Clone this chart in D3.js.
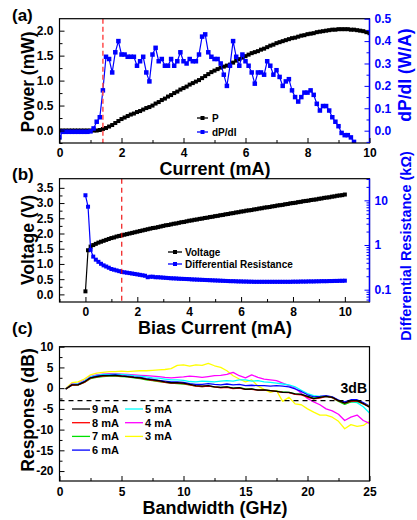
<!DOCTYPE html>
<html>
<head>
<meta charset="utf-8">
<script src="https://cdn.jsdelivr.net/npm/d3@7"></script>
<style>
  body { margin: 0; background: #fff; }
  svg { display: block; }
</style>
</head>
<body>
<svg id="fig" width="417" height="520"></svg>
<script>
// ---- panel (a): L-I and slope efficiency ----
var current = [0,0.1,0.2,0.3,0.4,0.5,0.6,0.7,0.8,0.9,1,1.1,1.2,1.3,1.4,1.5,1.6,1.7,1.8,1.9,
  2,2.1,2.2,2.3,2.4,2.5,2.6,2.7,2.8,2.9,3,3.1,3.2,3.3,3.4,3.5,3.6,3.7,3.8,3.9,
  4,4.1,4.2,4.3,4.4,4.5,4.6,4.7,4.8,4.9,5,5.1,5.2,5.3,5.4,5.5,5.6,5.7,5.8,5.9,
  6,6.1,6.2,6.3,6.4,6.5,6.6,6.7,6.8,6.9,7,7.1,7.2,7.3,7.4,7.5,7.6,7.7,7.8,7.9,
  8,8.1,8.2,8.3,8.4,8.5,8.6,8.7,8.8,8.9,9,9.1,9.2,9.3,9.4,9.5,9.6,9.7,9.8,9.9,10];

var power = [0,0,0,0,0,0,0,0,0,0,0,0,0,0.01,0.03,0.05,0.08,0.11,0.15,0.19,
  0.23,0.26,0.29,0.32,0.34,0.37,0.39,0.42,0.45,0.47,0.50,0.54,0.57,0.61,0.64,0.68,0.71,0.75,0.78,0.82,
  0.85,0.88,0.92,0.95,0.98,1.01,1.05,1.09,1.13,1.17,1.20,1.23,1.26,1.28,1.30,1.32,1.36,1.40,1.43,1.46,
  1.49,1.52,1.55,1.57,1.59,1.62,1.64,1.67,1.70,1.72,1.75,1.77,1.79,1.81,1.83,1.85,1.86,1.88,1.90,1.91,
  1.93,1.94,1.95,1.97,1.98,1.99,2.00,2.01,2.02,2.02,2.03,2.03,2.03,2.03,2.02,2.02,2.01,2.00,1.99,1.97,1.95];

var slope = [-0.03,-0.005,-0.005,-0.005,-0.005,-0.005,-0.005,-0.005,-0.005,-0.005,-0.003,0.01,0.04,0.06,0.18,0.33,0.32,0.26,0.35,0.40,
  0.34,0.34,0.33,0.33,0.33,0.29,0.31,0.33,0.26,0.22,0.34,0.37,0.31,0.32,0.29,0.29,0.32,0.29,0.31,0.35,
  0.31,0.30,0.32,0.31,0.31,0.34,0.42,0.43,0.35,0.33,0.32,0.32,0.30,0.25,0.20,0.29,0.40,0.33,0.29,0.34,
  0.31,0.29,0.26,0.21,0.26,0.26,0.25,0.31,0.29,0.25,0.27,0.24,0.20,0.22,0.23,0.18,0.15,0.13,0.15,0.17,
  0.17,0.18,0.16,0.12,0.09,0.11,0.11,0.09,0.06,0.04,0.02,-0.01,-0.02,-0.02,-0.03,-0.05];

// ---- panel (b): I-V and differential resistance ----
var voltage = [0.10,1.45,1.57,1.62,1.66,1.70,1.73,1.76,1.79,1.82,1.85,1.87,1.90,1.92,1.94,1.96,1.98,2.00,2.02,2.04,
  2.06,2.08,2.10,2.12,2.14,2.16,2.18,2.19,2.21,2.23,2.25,2.27,2.28,2.30,2.32,2.33,2.35,2.37,2.38,2.40,
  2.42,2.43,2.45,2.46,2.48,2.49,2.51,2.52,2.54,2.55,2.57,2.58,2.60,2.61,2.63,2.64,2.66,2.67,2.69,2.70,
  2.72,2.73,2.75,2.76,2.77,2.79,2.80,2.82,2.83,2.85,2.86,2.87,2.89,2.90,2.92,2.93,2.94,2.96,2.97,2.99,
  3.00,3.01,3.03,3.04,3.06,3.07,3.08,3.10,3.11,3.12,3.14,3.15,3.17,3.18,3.19,3.21,3.22,3.24,3.25,3.26,3.28];

var diffRes = [13,7.2,0.78,0.55,0.47,0.42,0.38,0.35,0.33,0.31,0.29,0.28,0.27,0.26,0.25,0.245,0.24,0.235,0.23,0.225,
  0.22,0.215,0.21,0.205,0.19,0.195,0.195,0.19,0.19,0.188,0.186,0.184,0.182,0.18,0.179,0.178,0.176,0.175,0.174,0.173,
  0.172,0.17,0.169,0.168,0.167,0.166,0.165,0.164,0.163,0.162,0.161,0.16,0.159,0.158,0.157,0.156,0.155,0.155,0.154,0.153,
  0.153,0.152,0.152,0.151,0.151,0.15,0.15,0.15,0.15,0.15,0.15,0.15,0.15,0.15,0.15,0.15,0.15,0.15,0.15,0.15,
  0.151,0.151,0.151,0.152,0.152,0.152,0.153,0.153,0.153,0.154,0.154,0.155,0.155,0.155,0.156,0.156,0.157,0.157,0.158,0.158,0.159];

var thresholdCurrent = 1.4;

// ---- panel (c): small-signal response ----
var freq = [0.5,1,1.5,2,2.5,3,3.5,4,4.5,5,5.5,6,6.5,7,7.5,8,8.5,9,9.5,10,
  10.5,11,11.5,12,12.5,13,13.5,14,14.5,15,15.5,16,16.5,17,17.5,18,18.5,19,19.5,20,
  20.5,21,21.5,22,22.5,23,23.5,24,24.5,25];

var resp9 = [-0.2,0.8,0.8,1.5,2.5,2.8,3.0,3.0,3.1,2.9,2.8,2.6,2.5,2.2,2.0,1.8,1.5,1.3,1.3,1.2,
  0.9,0.6,0.5,0.6,0.3,0.2,0.3,0.0,0.1,-0.3,-0.2,-0.5,-0.4,-0.6,-0.8,-1.0,-1.0,-1.4,-1.5,-2.0,
  -2.5,-2.2,-2.0,-2.2,-3.0,-3.6,-3.0,-3.0,-3.7,-4.6];
var resp8 = [-0.2,0.7,0.8,1.4,2.4,2.7,2.9,3.0,3.0,2.9,2.8,2.6,2.4,2.1,1.9,1.7,1.4,1.2,1.2,1.1,
  0.8,0.5,0.4,0.5,0.3,0.1,0.2,-0.1,0.0,-0.3,-0.3,-0.5,-0.5,-0.6,-0.8,-1.0,-1.1,-1.5,-1.6,-2.2,
  -2.6,-2.4,-2.0,-2.3,-3.1,-3.6,-3.2,-3.1,-3.8,-4.5];
var resp7 = [-0.2,0.7,0.8,1.4,2.3,2.6,2.8,2.9,2.9,2.8,2.7,2.5,2.3,2.0,1.8,1.6,1.4,1.2,1.1,1.0,
  0.8,0.5,0.4,0.5,0.3,0.2,0.3,0.0,0.1,-0.2,-0.2,-0.4,-0.4,-0.6,-0.7,-0.9,-1.0,-1.4,-1.5,-2.0,
  -2.4,-2.2,-2.0,-2.3,-3.2,-3.9,-3.3,-3.2,-3.8,-4.4];
var resp6 = [-0.2,0.8,0.9,1.5,2.5,2.9,3.1,3.1,3.2,3.0,2.9,2.7,2.6,2.3,2.1,1.9,1.7,1.5,1.5,1.4,
  1.1,0.9,0.9,1.1,0.9,0.8,1.0,0.8,0.9,0.6,0.7,0.6,0.6,0.5,0.6,0.5,0.3,-0.2,-0.8,-1.6,
  -2.1,-2.0,-1.8,-2.1,-2.9,-3.3,-2.8,-2.8,-3.5,-4.3];
var resp5 = [-0.2,0.9,1.0,1.7,2.7,3.1,3.3,3.3,3.4,3.3,3.2,3.0,2.9,2.7,2.5,2.4,2.2,2.0,2.0,1.9,
  1.6,1.5,1.7,1.6,1.5,1.7,1.8,1.7,2.0,2.0,1.7,1.8,1.5,1.4,1.2,1.0,0.8,0.3,-0.5,-1.3,
  -1.8,-2.0,-2.0,-2.3,-3.0,-3.5,-3.3,-3.5,-4.5,-6.0];
var resp4 = [-0.2,1.0,1.1,1.8,2.8,3.2,3.4,3.5,3.5,3.4,3.3,3.2,3.1,3.0,2.9,2.8,2.6,2.5,2.6,2.7,
  2.9,2.8,2.6,2.8,3.0,3.1,3.3,3.8,3.0,2.5,3.2,2.6,2.2,2.0,1.8,1.2,0.6,0.0,-1.2,-2.5,
  -3.3,-4.0,-5.0,-5.5,-6.3,-7.8,-7.0,-6.5,-7.8,-8.5];
var resp3 = [-0.1,1.3,1.5,2.2,3.2,3.6,3.8,4.0,4.0,4.1,4.0,4.1,4.2,4.2,4.3,4.4,4.5,4.7,5.5,5.6,
  5.3,5.6,5.5,6.0,5.4,5.0,4.2,3.0,2.2,1.5,2.0,0.5,-0.3,-1.0,-0.6,-3.2,-2.2,-3.8,-4.0,-5.0,
  -5.8,-6.5,-6.5,-7.0,-8.0,-9.8,-8.8,-9.2,-9.0,-8.0];

var biasLabels = ["9 mA", "8 mA", "7 mA", "6 mA", "5 mA", "4 mA", "3 mA"];
var biasColors = ["#000000", "#ff0000", "#00e000", "#0000ff", "#00ffff", "#ff00ff", "#ffff00"];
var responses = [resp9, resp8, resp7, resp6, resp5, resp4, resp3];

// ---------------------------------------------------------------
var FONT = "Arial, 'Liberation Sans', sans-serif";
var BLUE = "#0000ff";
var L = 59.5, R = 369.5;

var svg = d3.select("#fig")
  .attr("font-family", FONT)
  .attr("font-weight", "bold");

function addAxis(gen, scale, pos, major, minor, fmt, color, pad) {
  var g = svg.append("g").attr("transform", pos);
  g.call(gen(scale).tickValues(major).tickSizeInner(-5).tickSizeOuter(0)
    .tickPadding(pad).tickFormat(fmt));
  g.append("g").call(gen(scale).tickValues(minor).tickSizeInner(-3)
    .tickSizeOuter(0).tickFormat(""));
  g.selectAll(".domain").remove();
  g.attr("font-family", FONT).attr("font-size", 12).attr("font-weight", "bold");
  g.selectAll("line").attr("stroke", color).attr("stroke-width", 1);
  g.selectAll("text").attr("fill", color);
  return g;
}

function frame(top, bottom, rightColor) {
  svg.append("rect")
    .attr("x", L).attr("y", top)
    .attr("width", R - L).attr("height", bottom - top)
    .attr("fill", "none").attr("stroke", "#000").attr("stroke-width", 1.2);
  if (rightColor) {
    svg.append("line")
      .attr("x1", R).attr("x2", R).attr("y1", top).attr("y2", bottom)
      .attr("stroke", rightColor).attr("stroke-width", 1.4);
  }
}

function clip(id, top, bottom) {
  svg.append("clipPath").attr("id", id)
    .append("rect").attr("x", L).attr("y", top)
    .attr("width", R - L).attr("height", bottom - top);
  return "url(#" + id + ")";
}

function yTitle(x, y, txt, color, size) {
  svg.append("text")
    .attr("transform", "translate(" + x + "," + y + ") rotate(-90)")
    .attr("text-anchor", "middle")
    .attr("font-size", size)
    .attr("fill", color)
    .text(txt);
}

function xTitle(y, txt) {
  svg.append("text")
    .attr("x", 215).attr("y", y)
    .attr("text-anchor", "middle")
    .attr("font-size", 18)
    .text(txt);
}

function panelLabel(y, txt) {
  svg.append("text").attr("x", 12).attr("y", y)
    .attr("font-size", 17).text(txt);
}

function squares(g, pts, x, y, size, color) {
  g.selectAll(null).data(pts).enter().append("rect")
    .attr("x", function (d) { return x(d[0]) - size / 2; })
    .attr("y", function (d) { return y(d[1]) - size / 2; })
    .attr("width", size).attr("height", size)
    .attr("fill", color);
}

function pairs(xs, ys) {
  return ys.map(function (v, i) { return [xs[i], v]; });
}

// ================= panel (a) =================
var topA = 18.7, botA = 143;
var xA = d3.scaleLinear().domain([0, 10]).range([L, R]);
var yA = d3.scaleLinear().domain([-0.25, 2.24]).range([botA, topA]);
var yA2 = d3.scaleLinear().domain([-0.055, 0.5]).range([botA, topA]);

var clipA = clip("clipA", topA, botA);
var gA = svg.append("g").attr("clip-path", clipA);

var pPts = pairs(current, power);
var sPts = pairs(current, slope);

gA.append("path").datum(pPts)
  .attr("fill", "none").attr("stroke", "#000").attr("stroke-width", 1.5)
  .attr("d", d3.line().x(function (d) { return xA(d[0]); }).y(function (d) { return yA(d[1]); }));
squares(gA, pPts, xA, yA, 4, "#000");

gA.append("path").datum(sPts)
  .attr("fill", "none").attr("stroke", BLUE).attr("stroke-width", 1.2)
  .attr("d", d3.line().x(function (d) { return xA(d[0]); }).y(function (d) { return yA2(d[1]); }));
squares(gA, sPts, xA, yA2, 4.5, BLUE);

gA.append("line")
  .attr("x1", xA(thresholdCurrent)).attr("x2", xA(thresholdCurrent))
  .attr("y1", topA).attr("y2", botA)
  .attr("stroke", "#ff4d4d").attr("stroke-width", 1.5).attr("stroke-dasharray", "5,3");

frame(topA, botA, BLUE);

addAxis(d3.axisBottom, xA, "translate(0," + botA + ")",
  [0, 2, 4, 6, 8, 10], [1, 3, 5, 7, 9], d3.format("d"), "#000", 5);
addAxis(d3.axisLeft, yA, "translate(" + L + ",0)",
  [0, 0.5, 1, 1.5, 2], [-0.25, 0.25, 0.75, 1.25, 1.75], d3.format(".1f"), "#000", 6);
addAxis(d3.axisRight, yA2, "translate(" + R + ",0)",
  [0, 0.1, 0.2, 0.3, 0.4, 0.5], [-0.05, 0.05, 0.15, 0.25, 0.35, 0.45], d3.format(".1f"), BLUE, 5);

// legend (a)
[["P", "#000", 118], ["dP/dI", BLUE, 132]].forEach(function (it) {
  svg.append("line").attr("x1", 197).attr("x2", 208).attr("y1", it[2]).attr("y2", it[2])
    .attr("stroke", it[1]).attr("stroke-width", 1.3);
  svg.append("rect").attr("x", 200.5).attr("y", it[2] - 2).attr("width", 4).attr("height", 4)
    .attr("fill", it[1]);
  svg.append("text").attr("x", 212).attr("y", it[2]).attr("dy", "0.35em")
    .attr("font-size", 10).attr("fill", "#000").text(it[0]);
});

panelLabel(21, "(a)");
yTitle(34, 82, "Power (mW)", "#000", 17.5);
yTitle(411, 75, "dP/dI (W/A)", BLUE, 17.5);
xTitle(175, "Current (mA)");

// ================= panel (b) =================
var topB = 178.7, botB = 302;
var xB = d3.scaleLinear().domain([-1, 10.95]).range([L, R]);
var yB = d3.scaleLinear().domain([-0.25, 3.8]).range([botB, topB]);
var yB2 = d3.scaleLog().domain([0.053, 30.5]).range([botB, topB]);

var clipB = clip("clipB", topB, botB);
var gB = svg.append("g").attr("clip-path", clipB);

var vPts = pairs(current, voltage);
var rPts = pairs(current, diffRes);

gB.append("path").datum(vPts)
  .attr("fill", "none").attr("stroke", "#000").attr("stroke-width", 1.2)
  .attr("d", d3.line().x(function (d) { return xB(d[0]); }).y(function (d) { return yB(d[1]); }));
squares(gB, vPts, xB, yB, 4, "#000");

gB.append("path").datum(rPts)
  .attr("fill", "none").attr("stroke", BLUE).attr("stroke-width", 1.2)
  .attr("d", d3.line().x(function (d) { return xB(d[0]); }).y(function (d) { return yB2(d[1]); }));
squares(gB, rPts, xB, yB2, 4, BLUE);

gB.append("line")
  .attr("x1", xB(thresholdCurrent)).attr("x2", xB(thresholdCurrent))
  .attr("y1", topB).attr("y2", botB)
  .attr("stroke", "#ee0000").attr("stroke-width", 1.1).attr("stroke-dasharray", "5,4");

frame(topB, botB, BLUE);

addAxis(d3.axisBottom, xB, "translate(0," + botB + ")",
  [0, 2, 4, 6, 8, 10], [-1, 1, 3, 5, 7, 9], d3.format("d"), "#000", 5);
addAxis(d3.axisLeft, yB, "translate(" + L + ",0)",
  [0, 0.5, 1, 1.5, 2, 2.5, 3, 3.5], [0.25, 0.75, 1.25, 1.75, 2.25, 2.75, 3.25], d3.format(".1f"), "#000", 6);
var logMinor = [0.06, 0.07, 0.08, 0.09, 0.2, 0.3, 0.4, 0.5, 0.6, 0.7, 0.8, 0.9,
  2, 3, 4, 5, 6, 7, 8, 9, 20, 30];
addAxis(d3.axisRight, yB2, "translate(" + R + ",0)",
  [0.1, 1, 10], logMinor, function (d) { return String(d); }, BLUE, 5);

// legend (b)
[["Voltage", "#000", 252], ["Differential Resistance", BLUE, 264]].forEach(function (it) {
  svg.append("line").attr("x1", 168).attr("x2", 182).attr("y1", it[2]).attr("y2", it[2])
    .attr("stroke", it[1]).attr("stroke-width", 1.3);
  svg.append("rect").attr("x", 173).attr("y", it[2] - 2).attr("width", 4).attr("height", 4)
    .attr("fill", it[1]);
  svg.append("text").attr("x", 185).attr("y", it[2]).attr("dy", "0.35em")
    .attr("font-size", 10).attr("fill", "#000").text(it[0]);
});

panelLabel(180, "(b)");
yTitle(34, 240, "Voltage (V)", "#000", 17.5);
yTitle(411, 246, "Differential Resistance (k\u03A9)", BLUE, 14.5);
xTitle(334, "Bias Current (mA)");

// ================= panel (c) =================
var topC = 346.7, botC = 481;
var xC = d3.scaleLinear().domain([0, 25]).range([L, R]);
var yC = d3.scaleLinear().domain([-22.4, 10]).range([botC, topC]);

var clipC = clip("clipC", topC, botC);
var gC = svg.append("g").attr("clip-path", clipC);

var lineC = d3.line()
  .x(function (d) { return xC(d[0]); })
  .y(function (d) { return yC(d[1]); });

// draw 3 mA first so the high-bias traces sit on top
for (var k = responses.length - 1; k >= 0; k--) {
  gC.append("path").datum(pairs(freq, responses[k]))
    .attr("fill", "none").attr("stroke", biasColors[k]).attr("stroke-width", 1.3)
    .attr("stroke-linejoin", "round")
    .attr("d", lineC);
}

gC.append("line")
  .attr("x1", L).attr("x2", R).attr("y1", yC(-3)).attr("y2", yC(-3))
  .attr("stroke", "#000").attr("stroke-width", 1.2).attr("stroke-dasharray", "5,4");

frame(topC, botC, null);

addAxis(d3.axisBottom, xC, "translate(0," + botC + ")",
  [0, 5, 10, 15, 20, 25], [2.5, 7.5, 12.5, 17.5, 22.5], d3.format("d"), "#000", 6);
addAxis(d3.axisLeft, yC, "translate(" + L + ",0)",
  [-20, -15, -10, -5, 0, 5, 10], [-17.5, -12.5, -7.5, -2.5, 2.5, 7.5], function (d) { return String(d); }, "#000", 6);

svg.append("text").attr("x", 367).attr("y", 393).attr("text-anchor", "end")
  .attr("font-size", 14).text("3dB");

// legend (c): two columns
biasLabels.forEach(function (lab, i) {
  var col = i < 4 ? 0 : 1;
  var row = i < 4 ? i : i - 4;
  var x0 = col === 0 ? 72 : 125;
  var y0 = 409 + row * 13.7;
  svg.append("line").attr("x1", x0).attr("x2", x0 + 18).attr("y1", y0).attr("y2", y0)
    .attr("stroke", biasColors[i]).attr("stroke-width", 1.3);
  svg.append("text").attr("x", x0 + 20).attr("y", y0).attr("dy", "0.35em")
    .attr("font-size", 11).text(lab);
});

panelLabel(334, "(c)");
yTitle(34, 410, "Response (dB)", "#000", 17.5);
xTitle(514, "Bandwidth (GHz)");
</script>
</body>
</html>
